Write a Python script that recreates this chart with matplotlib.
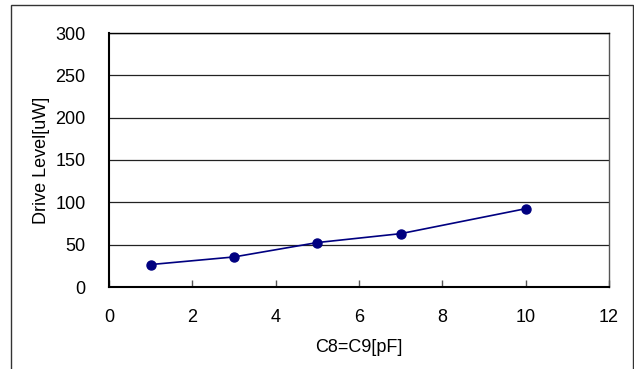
import matplotlib
matplotlib.use("Agg")
import matplotlib.pyplot as plt
from matplotlib.patches import Rectangle

cap_pf = [1, 3, 5, 7, 10]
drive_uw = [26.5, 35.5, 52.5, 63, 92.5]
x_ticks = [0, 2, 4, 6, 8, 10, 12]
y_ticks = [0, 50, 100, 150, 200, 250, 300]

plt.rcParams['font.family'] = ['Liberation Sans', 'DejaVu Sans']
W, H = 634, 369
fig = plt.figure(figsize=(W/100, H/100), dpi=100)
ax = fig.add_axes([109/W, 1-287/H, (609-109)/W, (287-33)/H])

fig.patches.append(Rectangle((11/W, -0.1), (632.5-11)/W, 1-5/H+0.1,
                             transform=fig.transFigure, fill=False,
                             edgecolor='#333333', linewidth=1.0, zorder=0))

ax.plot(cap_pf, drive_uw, color='#000080', linewidth=1.2, marker='o',
        markersize=6.5, markerfacecolor='#000080', markeredgecolor='#000080',
        zorder=3, clip_on=False)

ax.set_xlim(0, 12)
ax.set_ylim(0, 300)
ax.set_xticks(x_ticks)
ax.set_yticks(y_ticks)
ax.yaxis.grid(True, color='#222222', linewidth=0.9)
ax.set_axisbelow(True)
ax.tick_params(axis='x', direction='in', length=5, width=1, labelsize=13, pad=16, color='#555555')
ax.tick_params(axis='y', length=0, labelsize=13, pad=17)
for s in ['left', 'bottom']:
    ax.spines[s].set_linewidth(1.5)
    ax.spines[s].set_color('black')
ax.spines['top'].set_linewidth(1.0)
ax.spines['right'].set_linewidth(1.0)
ax.spines['right'].set_color('#555555')

ax.set_xlabel('C8=C9[pF]', fontsize=13, labelpad=9)
ax.set_ylabel('Drive Level[uW]', fontsize=13, labelpad=4)

fig.savefig('out.png', dpi=100)
